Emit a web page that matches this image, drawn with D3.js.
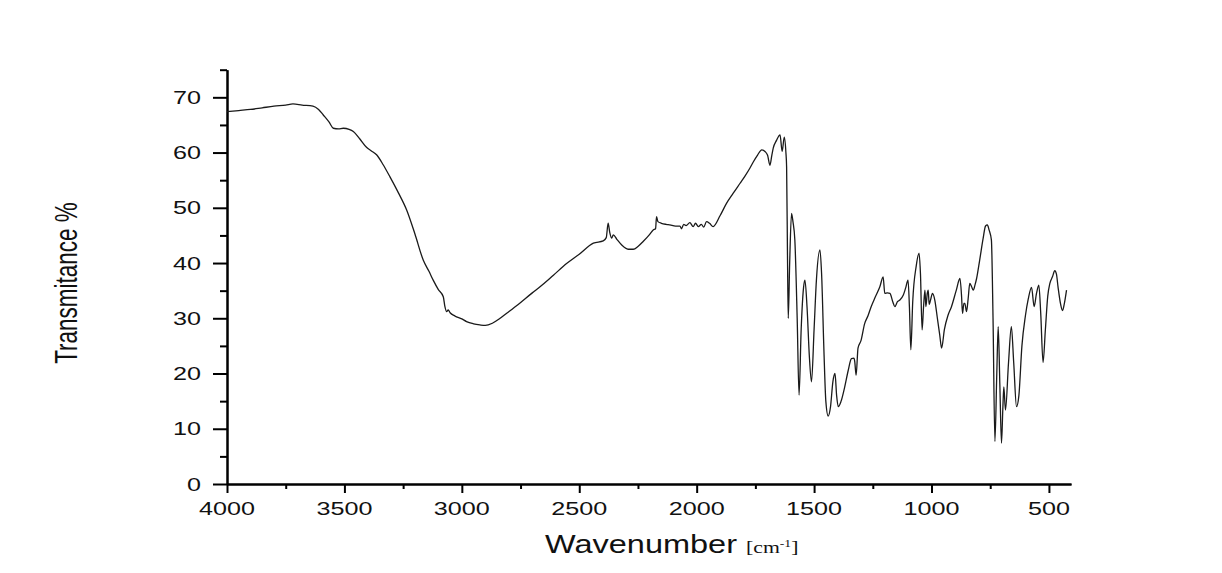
<!DOCTYPE html>
<html>
<head>
<meta charset="utf-8">
<script src="https://cdn.jsdelivr.net/npm/d3@7/dist/d3.min.js"></script>
<style>
  html, body { margin: 0; padding: 0; background: #ffffff; }
  svg { display: block; }
</style>
</head>
<body>
<svg id="chart" width="1222" height="573"></svg>
<script>
// FTIR spectrum: wavenumber (cm-1) vs transmittance (%)
const wavenumber = [
  4000, 3950, 3900, 3850, 3800, 3750, 3719, 3680, 3634, 3610, 3590, 3565, 3547, 3525, 3505, 3480,
  3462, 3435, 3405, 3385, 3363, 3335, 3306, 3270, 3235, 3200, 3164, 3140, 3122, 3100, 3079, 3072,
  3065, 3058, 3050, 3029, 3000, 2980, 2950, 2923, 2900, 2870, 2840, 2809, 2760, 2700, 2667, 2610,
  2554, 2500, 2440, 2398, 2385, 2377, 2370, 2362, 2355, 2340, 2320, 2292, 2270, 2250, 2228, 2200,
  2185, 2175, 2171, 2165, 2150, 2130, 2114, 2090, 2071, 2065, 2055, 2045, 2029, 2015, 2005, 1993,
  1980, 1970, 1958, 1945, 1930, 1900, 1873, 1845, 1816, 1795, 1773, 1759, 1740, 1723, 1709, 1698,
  1688, 1680, 1674, 1660, 1645, 1636, 1627, 1620, 1617, 1613, 1610, 1604, 1596, 1590, 1582, 1572,
  1564, 1555, 1545, 1539, 1530, 1520, 1511, 1500, 1490, 1475, 1468, 1458, 1450, 1440, 1430, 1420,
  1411, 1404, 1397, 1385, 1370, 1355, 1341, 1330, 1327, 1321, 1313, 1300, 1285, 1270, 1257, 1240,
  1220, 1206, 1199, 1188, 1177, 1165, 1156, 1145, 1135, 1120, 1110, 1100, 1094, 1088, 1080, 1065,
  1053, 1047, 1040, 1034, 1028, 1024, 1018, 1014, 1010, 1003, 996, 986, 975, 965, 957, 945,
  930, 915, 895, 879, 872, 868, 862, 858, 851, 844, 837, 830, 822, 815, 808, 795,
  780, 770, 762, 755, 745, 738, 730, 722, 716, 709, 702, 696, 692, 685, 672, 660,
  650, 638, 628, 615, 600, 588, 574, 563, 553, 543, 535, 525, 515, 505, 496, 485,
  475, 468, 461, 450, 442, 435, 425
];
const transmittance = [
  67.4, 67.6, 67.8, 68.1, 68.4, 68.6, 68.8, 68.6, 68.4, 67.8, 66.8, 65.5, 64.4, 64.3, 64.4, 64.2,
  63.8, 62.5, 60.9, 60.3, 59.6, 57.8, 55.6, 52.7, 49.6, 45.3, 40.5, 38.5, 36.9, 35.2, 33.9, 32.1,
  31.2, 31.5, 31.0, 30.4, 29.9, 29.4, 29.0, 28.8, 28.7, 29.1, 29.9, 30.9, 32.5, 34.6, 35.7, 37.8,
  39.9, 41.6, 43.6, 44.0, 44.6, 47.2, 45.5, 44.5, 45.1, 44.3, 43.3, 42.5, 42.5, 43.0, 43.9, 45.2,
  46.0, 46.2, 48.4, 47.5, 47.2, 47.0, 46.9, 46.7, 46.7, 46.2, 47.0, 46.8, 47.3, 46.6, 47.2, 46.6,
  47.0, 46.5, 47.5, 47.2, 46.6, 48.6, 50.8, 52.6, 54.4, 55.7, 57.2, 58.3, 59.6, 60.5, 60.2, 59.5,
  57.7, 59.5, 60.8, 62.2, 63.2, 60.2, 62.8, 60.0, 57.4, 40.0, 30.0, 40.0, 49.0, 47.5, 44.2, 30.0,
  16.1, 28.0, 35.5, 36.9, 32.0, 23.0, 18.5, 28.0, 37.0, 42.4, 38.0, 24.0, 15.0, 12.3, 14.0, 18.5,
  20.0, 16.0, 14.0, 15.0, 17.5, 20.5, 22.7, 22.8, 22.2, 19.7, 24.6, 26.0, 29.0, 30.5, 32.1, 33.8,
  35.7, 37.5, 34.5, 34.6, 34.5, 33.0, 32.1, 33.0, 33.3, 34.2, 35.5, 36.9, 32.0, 24.3, 33.0, 39.5,
  41.8, 38.0, 27.9, 32.0, 35.1, 32.1, 34.5, 35.1, 32.5, 33.5, 34.5, 33.3, 30.0, 27.0, 24.6, 28.0,
  30.5, 32.1, 35.0, 37.2, 34.0, 30.9, 32.7, 32.7, 31.2, 33.5, 36.3, 35.8, 35.1, 36.0, 37.2, 40.5,
  44.5, 46.7, 46.9, 46.0, 44.2, 30.0, 7.7, 20.0, 28.5, 18.0, 7.4, 14.0, 17.6, 13.4, 22.0, 28.5,
  22.0, 14.0, 16.0, 25.0, 30.5, 33.5, 35.6, 32.1, 34.5, 36.0, 31.0, 22.0, 28.0, 34.0, 36.3, 37.5,
  38.6, 38.0, 35.6, 32.5, 31.4, 32.5, 35.1
];

const xMajorTicks = [4000, 3500, 3000, 2500, 2000, 1500, 1000, 500];
const xMinorTicks = [3750, 3250, 2750, 2250, 1750, 1250, 750];
const yMajorTicks = [0, 10, 20, 30, 40, 50, 60, 70];
const yMinorTicks = [5, 15, 25, 35, 45, 55, 65, 75];

const xTitle = "Wavenumber";
const xUnit = "[cm";
const xUnitSup = "-1";
const yTitle = "Transmitance %";

const svg = d3.select("#chart");
const stretch = 1.36;            // horizontal glyph stretch used for all labels
const sans = "'Liberation Sans', Arial, sans-serif";
const serif = "'Liberation Serif', 'Times New Roman', serif";

const x = d3.scaleLinear().domain([4000, 406]).range([227, 1071]);
const y = d3.scaleLinear().domain([0, 75]).range([484, 69.7]);

// ---- axes (ticks only; labels drawn separately) ----
function styleAxis(g) {
  g.selectAll("path, line").attr("stroke", "#000").attr("stroke-width", 2);
  g.selectAll("text").remove();
}

svg.append("g")
  .attr("transform", `translate(0,${y(0)})`)
  .call(d3.axisBottom(x).tickValues(xMinorTicks).tickSize(5).tickSizeOuter(0))
  .call(styleAxis);
svg.append("g")
  .attr("transform", `translate(0,${y(0)})`)
  .call(d3.axisBottom(x).tickValues(xMajorTicks).tickSize(9).tickSizeOuter(0))
  .call(styleAxis);
svg.append("g")
  .attr("transform", `translate(${x(4000)},0)`)
  .call(d3.axisLeft(y).tickValues(yMinorTicks).tickSize(7).tickSizeOuter(0))
  .call(styleAxis);
svg.append("g")
  .attr("transform", `translate(${x(4000)},0)`)
  .call(d3.axisLeft(y).tickValues(yMajorTicks).tickSize(14).tickSizeOuter(0))
  .call(styleAxis);

// ---- tick labels ----
svg.append("g").selectAll("text")
  .data(xMajorTicks)
  .join("text")
  .attr("transform", d => `translate(${x(d)},515) scale(${stretch},1)`)
  .attr("text-anchor", "middle")
  .attr("font-family", sans)
  .attr("font-size", 18.5)
  .attr("fill", "#111")
  .text(d => d);

svg.append("g").selectAll("text")
  .data(yMajorTicks)
  .join("text")
  .attr("transform", d => `translate(201,${y(d)}) scale(${stretch},1)`)
  .attr("text-anchor", "end")
  .attr("dy", "0.36em")
  .attr("font-family", sans)
  .attr("font-size", 18.5)
  .attr("fill", "#111")
  .text(d => d);

// ---- axis titles ----
svg.append("text")
  .attr("transform", `translate(545,553) scale(1.3,1)`)
  .attr("font-family", sans)
  .attr("font-size", 25)
  .attr("fill", "#111")
  .text(xTitle);

const unit = svg.append("text")
  .attr("transform", `translate(746,553) scale(${stretch},1)`)
  .attr("font-family", serif)
  .attr("font-size", 16)
  .attr("fill", "#111");
unit.append("tspan").text(xUnit);
unit.append("tspan").attr("font-size", 10).attr("dy", -6).text(xUnitSup);
unit.append("tspan").attr("dy", 6).text("]");

svg.append("text")
  .attr("transform", `translate(77,283) rotate(-90) scale(1,${stretch})`)
  .attr("text-anchor", "middle")
  .attr("font-family", sans)
  .attr("font-size", 22.5)
  .attr("fill", "#111")
  .text(yTitle);

// ---- spectrum ----
const points = wavenumber.map((w, i) => [w, transmittance[i]]);
const line = d3.line()
  .x(d => x(d[0]))
  .y(d => y(d[1]))
  .curve(d3.curveMonotoneX);

svg.append("path")
  .datum(points)
  .attr("d", line)
  .attr("fill", "none")
  .attr("stroke", "#1a1a1a")
  .attr("stroke-width", 1.3)
  .attr("stroke-linejoin", "round");
</script>
</body>
</html>
